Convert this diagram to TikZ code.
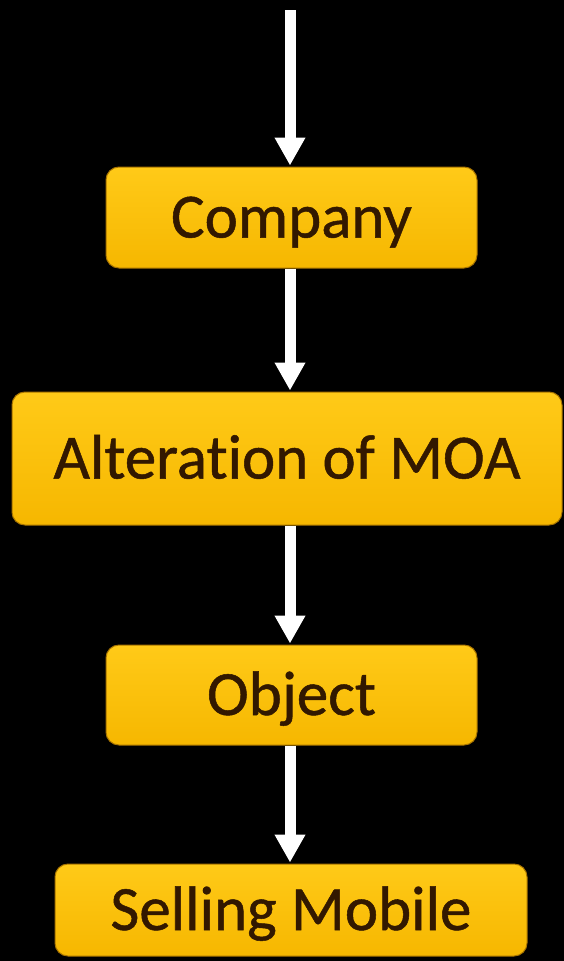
\documentclass[tikz,border=0pt]{standalone}
\usepackage{fontspec}
\setmainfont{Carlito}[Ligatures=NoCommon, FakeBold=0.8]
\usetikzlibrary{arrows.meta}
\definecolor{boxtop}{HTML}{FFCA18}
\definecolor{boxbot}{HTML}{F6B700}
\definecolor{boxedge}{HTML}{A87400}
\definecolor{txt}{HTML}{321800}
\tikzset{
  stepbox/.style={rectangle, rounded corners=13pt, top color=boxtop, bottom color=boxbot,
    draw=boxedge, line width=1pt, inner sep=0pt, text=txt,
    font=\fontsize{63}{70}\selectfont, text height=40pt, text depth=0pt, align=center},
  flow/.style={draw=white, line width=11pt,
    -{Triangle[width=29pt,length=28pt,fill=white]}, shorten >=1pt}
}
\begin{document}
\begin{tikzpicture}[x=1pt,y=-1pt]
  \fill[black] (0,0) rectangle (564,961);
  \useasboundingbox (0,0) rectangle (564,961);
  \node[stepbox, minimum width=371pt, minimum height=101pt] (company) at (291.5,217.5) {Company};
  \node[stepbox, minimum width=550pt, minimum height=133pt] (alter) at (287,458.5) {Alteration of MOA};
  \node[stepbox, minimum width=371pt, minimum height=100pt] (object) at (291.5,695) {Object};
  \node[stepbox, minimum width=472pt, minimum height=92pt] (sell) at (291,910) {Selling Mobile};
  \coordinate (start) at (290,10);
  \draw[flow] (start) -- (start |- company.north);
  \draw[flow] (company.south -| start) -- (alter.north -| start);
  \draw[flow] (alter.south -| start) -- (object.north -| start);
  \draw[flow] (object.south -| start) -- (sell.north -| start);
\end{tikzpicture}
\end{document}
